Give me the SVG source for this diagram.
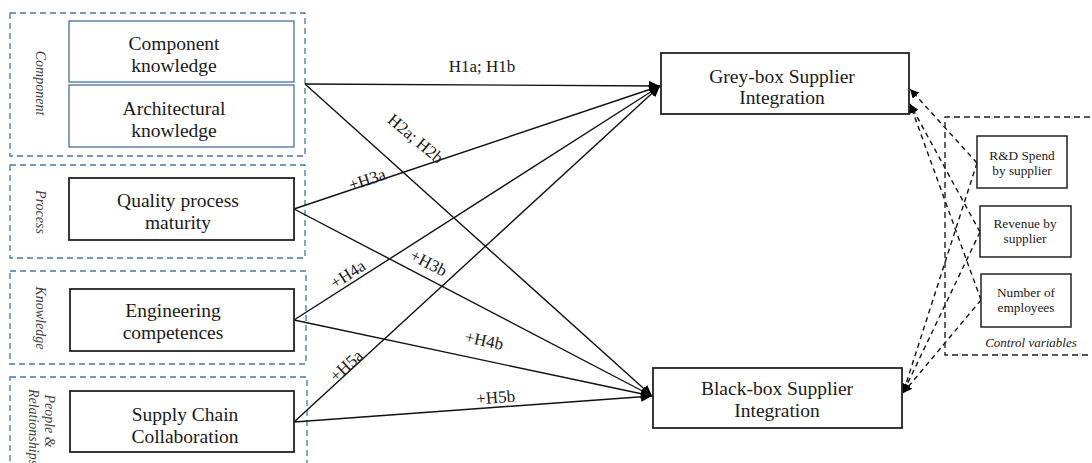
<svg xmlns="http://www.w3.org/2000/svg" width="1092" height="463" viewBox="0 0 1092 463">
<defs>
<marker id="arr" markerUnits="userSpaceOnUse" markerWidth="12" markerHeight="10" refX="11" refY="5" orient="auto">
<path d="M0,0 L11,5 L0,10 z" fill="#000"/>
</marker>
<marker id="arrs" markerUnits="userSpaceOnUse" markerWidth="10" markerHeight="9" refX="9" refY="4.5" orient="auto">
<path d="M0,0 L9,4.5 L0,9 z" fill="#000"/>
</marker>
<style>
.grp{fill:none;stroke:#4a74a4;stroke-width:1.3;stroke-dasharray:6,4}
.bluebox{fill:#fff;stroke:#4a6fa5;stroke-width:1.3}
.box{fill:#fff;stroke:#222;stroke-width:1.8}
.cbox{fill:#fff;stroke:#222;stroke-width:1.5}
.t{font-family:"Liberation Serif","Times New Roman",serif;font-size:19.5px;fill:#1a1a1a;text-anchor:middle}
.s{font-family:"Liberation Serif","Times New Roman",serif;font-size:13.3px;fill:#1a1a1a;text-anchor:middle}
.g{font-family:"Liberation Serif","Times New Roman",serif;font-size:14px;font-style:italic;fill:#444;text-anchor:middle}
.l{font-family:"Liberation Serif","Times New Roman",serif;font-size:17px;fill:#1a1a1a;text-anchor:middle}
.ln{fill:none;stroke:#111;stroke-width:1.4}
.dl{fill:none;stroke:#111;stroke-width:1.4;stroke-dasharray:5,4}
</style>
</defs>
<rect width="1092" height="463" fill="#fff"/>

<g id="group-component">
<rect class="grp" x="10" y="13" width="295" height="143"/>
<text class="g" transform="translate(36,83) rotate(90)">Component</text>
</g>
<g id="group-process">
<rect class="grp" x="10" y="165" width="295" height="93"/>
<text class="g" transform="translate(36,212) rotate(90)">Process</text>
</g>
<g id="group-knowledge">
<rect class="grp" x="10" y="271" width="296" height="93"/>
<text class="g" transform="translate(36,318) rotate(90)">Knowledge</text>
</g>
<g id="group-people">
<rect class="grp" x="10" y="377" width="297" height="100"/>
<text class="g" transform="translate(45,421) rotate(90)">People &amp;</text>
<text class="g" transform="translate(29,427) rotate(90)">Relationships</text>
</g>

<g id="connectors">
<line class="ln" x1="305" y1="84" x2="660" y2="86" marker-end="url(#arr)"/>
<line class="ln" x1="305" y1="84" x2="652" y2="396" marker-end="url(#arr)"/>
<line class="ln" x1="294" y1="209" x2="660" y2="86" marker-end="url(#arr)"/>
<line class="ln" x1="294" y1="209" x2="652" y2="396" marker-end="url(#arr)"/>
<line class="ln" x1="294" y1="320" x2="660" y2="86" marker-end="url(#arr)"/>
<line class="ln" x1="294" y1="320" x2="652" y2="396" marker-end="url(#arr)"/>
<line class="ln" x1="294" y1="422" x2="660" y2="86" marker-end="url(#arr)"/>
<line class="ln" x1="294" y1="422" x2="652" y2="396" marker-end="url(#arr)"/>
<line class="dl" x1="977" y1="163" x2="910" y2="89" marker-end="url(#arrs)"/>
<line class="dl" x1="980" y1="232" x2="910" y2="104" marker-end="url(#arrs)"/>
<line class="dl" x1="981" y1="300" x2="910" y2="104" marker-end="url(#arrs)"/>
<line class="dl" x1="977" y1="163" x2="903" y2="393" marker-end="url(#arrs)"/>
<line class="dl" x1="980" y1="232" x2="903" y2="393" marker-end="url(#arrs)"/>
<line class="dl" x1="981" y1="300" x2="903" y2="393" marker-end="url(#arrs)"/>
<text class="l" x="482" y="72">H1a; H1b</text>
<text class="l" transform="translate(412,143) rotate(40)">H2a; H2b</text>
<text class="l" transform="translate(369,185) rotate(-18.6)">+H3a</text>
<text class="l" transform="translate(351,279) rotate(-33)">+H4a</text>
<text class="l" transform="translate(350,370) rotate(-42.6)">+H5a</text>
<text class="l" transform="translate(426,268) rotate(27.5)">+H3b</text>
<text class="l" transform="translate(483,346) rotate(12)">+H4b</text>
<text class="l" transform="translate(496,403) rotate(-4.2)">+H5b</text>
</g>

<g id="node-component-knowledge">
<rect class="bluebox" x="69" y="21" width="225" height="61"/>
<text class="t" x="174" y="50">Component</text>
<text class="t" x="174" y="72">knowledge</text>
</g>
<g id="node-architectural-knowledge">
<rect class="bluebox" x="69" y="85" width="225" height="62"/>
<text class="t" x="174" y="115">Architectural</text>
<text class="t" x="174" y="137">knowledge</text>
</g>
<g id="node-quality">
<rect class="box" x="69" y="178" width="225" height="62"/>
<text class="t" x="178" y="207">Quality process</text>
<text class="t" x="178" y="229">maturity</text>
</g>
<g id="node-engineering">
<rect class="box" x="70" y="289" width="224" height="62"/>
<text class="t" x="173" y="317">Engineering</text>
<text class="t" x="173" y="339">competences</text>
</g>
<g id="node-supply">
<rect class="box" x="70" y="391" width="224" height="61"/>
<text class="t" x="185" y="421">Supply Chain</text>
<text class="t" x="185" y="443">Collaboration</text>
</g>
<g id="node-greybox">
<rect class="box" x="661" y="53" width="248" height="61"/>
<text class="t" x="782" y="83">Grey-box Supplier</text>
<text class="t" x="782" y="104">Integration</text>
</g>
<g id="node-blackbox">
<rect class="box" x="653" y="368" width="249" height="60"/>
<text class="t" x="777" y="395">Black-box Supplier</text>
<text class="t" x="777" y="417">Integration</text>
</g>

<g id="group-control">
<path d="M1100,117 L945,117 L945,355 L1100,355" fill="none" stroke="#222" stroke-width="1.4" stroke-dasharray="6,4"/>
<text x="1031" y="347" font-family="Liberation Serif, serif" font-size="13" font-style="italic" fill="#222" text-anchor="middle">Control variables</text>
</g>
<g id="node-rd">
<rect class="cbox" x="977" y="136" width="90" height="52"/>
<text class="s" x="1022" y="160">R&amp;D Spend</text>
<text class="s" x="1022" y="175">by supplier</text>
</g>
<g id="node-revenue">
<rect class="cbox" x="980" y="206" width="91" height="51"/>
<text class="s" x="1025" y="228">Revenue by</text>
<text class="s" x="1025" y="243">supplier</text>
</g>
<g id="node-employees">
<rect class="cbox" x="981" y="274" width="90" height="53"/>
<text class="s" x="1026" y="297">Number of</text>
<text class="s" x="1026" y="312">employees</text>
</g>
</svg>
